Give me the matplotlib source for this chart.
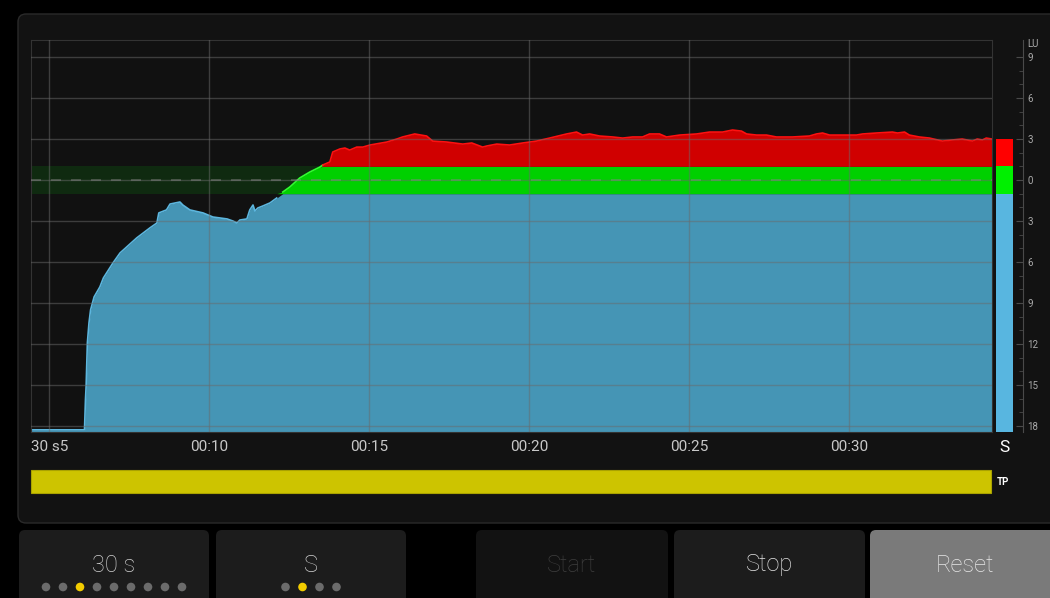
import numpy as np
import matplotlib.pyplot as plt
from matplotlib.patches import FancyBboxPatch, Circle, Rectangle

plt.rcParams['font.family'] = ['Roboto', 'DejaVu Sans']

W, H = 1050, 598

# short-term loudness history (seconds, LU relative to target)
times = [4.45, 6.12, 6.15, 6.17, 6.21, 6.26, 6.31, 6.42, 6.60, 6.71, 7.01, 7.23,
         7.75, 8.16, 8.38, 8.44, 8.68, 8.79, 9.10, 9.19, 9.41, 9.82, 10.13,
         10.57, 10.75, 10.88, 10.97, 11.19, 11.28, 11.38, 11.44, 11.53, 11.69,
         11.91, 12.12, 12.31, 12.53, 12.84, 13.15, 13.47, 13.56, 13.78, 13.87,
         14.09, 14.25, 14.40, 14.62, 14.81, 15.03, 15.56, 15.87, 16.05, 16.43,
         16.80, 16.99, 17.43, 17.93, 18.21, 18.55, 18.68, 18.99, 19.39, 19.80,
         20.23, 20.64, 21.17, 21.48, 21.67, 21.89, 22.20, 22.61, 22.92, 23.23,
         23.54, 23.76, 24.07, 24.29, 24.70, 25.23, 25.63, 26.04, 26.35, 26.63,
         26.79, 27.10, 27.41, 27.72, 28.22, 28.75, 28.97, 29.16, 29.38, 29.78,
         30.22, 30.41, 30.84, 31.34, 31.50, 31.72, 31.87, 32.18, 32.50, 32.90,
         33.21, 33.52, 33.84, 33.99, 34.15, 34.27, 34.45]
lu = [-18.29, -18.29, -16.09, -15.14, -11.92, -10.46, -9.51, -8.56, -7.83, -7.17,
      -6.07, -5.34, -4.24, -3.51, -3.15, -2.41, -2.19, -1.76, -1.61, -1.83,
      -2.19, -2.41, -2.71, -2.85, -3.00, -3.15, -2.93, -2.85, -2.19, -1.83,
      -2.27, -2.05, -1.90, -1.68, -1.32, -0.88, -0.51, 0.15, 0.58, 0.95, 1.10,
      1.32, 2.05, 2.27, 2.34, 2.19, 2.41, 2.41, 2.56, 2.78, 3.00, 3.15, 3.37,
      3.22, 2.85, 2.78, 2.63, 2.71, 2.41, 2.49, 2.63, 2.56, 2.71, 2.85, 3.07,
      3.37, 3.51, 3.29, 3.37, 3.22, 3.15, 3.07, 3.15, 3.15, 3.37, 3.37, 3.15,
      3.29, 3.37, 3.51, 3.51, 3.66, 3.58, 3.37, 3.29, 3.29, 3.15, 3.15, 3.22,
      3.37, 3.44, 3.29, 3.29, 3.29, 3.37, 3.44, 3.51, 3.44, 3.51, 3.29, 3.15,
      3.07, 2.85, 2.93, 3.00, 2.85, 3.00, 2.93, 3.07, 3.00]

time_ticks = [5, 10, 15, 20, 25, 30]
time_labels = ['', '00:10', '00:15', '00:20', '00:25', '00:30']
lu_ticks = list(range(-18, 10, 3))
window = (4.45, 34.45)
lu_range = (-18.45, 10.25)
target_band = (-1, 1)

buttons = ['30 s', 'S', 'Start', 'Stop', 'Reset']
range_dots, range_sel = 9, 2
mode_dots, mode_sel = 4, 1

BLUE, GREEN, RED = '#4595b5', '#00d000', '#d00000'


def frac(x0, y0, x1, y1):
    return [x0 / W, 1 - y1 / H, (x1 - x0) / W, (y1 - y0) / H]


fig = plt.figure(figsize=(W / 100, H / 100), dpi=100, facecolor='black')

# ---- UI chrome in pixel coordinates
bg = fig.add_axes([0, 0, 1, 1])
bg.set_xlim(0, W)
bg.set_ylim(H, 0)
bg.axis('off')
bg.add_patch(FancyBboxPatch((18, 14), 1060, 509, boxstyle='round,pad=0,rounding_size=8',
                            fc='#121212', ec='#2a2a2a', lw=1))

# TP bar
bg.add_patch(Rectangle((31, 470), 960, 23, fc='#cdc400', ec='#a9a200', lw=0.8))
bg.text(1003, 482, 'TP', color='white', fontsize=7, fontweight='bold', ha='center', va='center')
bg.text(1004, 447, 'S', color='white', fontsize=12.5, ha='center', va='center')
bg.text(1027, 44, 'LU', color='#aaaaaa', fontsize=7, ha='left', va='center')
bg.text(31, 447, '30 s5', color='#c8c8c8', fontsize=11, ha='left', va='center')

btn_x = [(19, 209), (216, 406), (476, 668), (674, 865), (870, 1060)]
btn_fc = ['#1c1c1c', '#1c1c1c', '#121212', '#1c1c1c', '#7a7a7a']
btn_tc = ['#d0d0d0', '#d0d0d0', '#3e3e3e', '#e4e4e4', '#e8e8e8']
for (x0, x1), label, fc, tc in zip(btn_x, buttons, btn_fc, btn_tc):
    bg.add_patch(FancyBboxPatch((x0, 530), x1 - x0, 80, boxstyle='round,pad=0,rounding_size=6',
                                fc=fc, ec='none'))
    bg.text((x0 + x1) / 2, 565, label, color=tc, fontsize=17, fontweight='light',
            ha='center', va='center')

for n, sel, cx in [(range_dots, range_sel, 114), (mode_dots, mode_sel, 311)]:
    for i in range(n):
        x = cx + (i - (n - 1) / 2) * 17
        bg.add_patch(Circle((x, 587), 4.3, fc='#f2cc00' if i == sel else '#6b6b6b', ec='none'))

# ---- loudness history
t = np.array(times)
v = np.array(lu)
ax = fig.add_axes(frac(31, 40, 992, 432))
ax.set_facecolor('#111111')
ax.axhspan(*target_band, color='#0f2a10', lw=0, zorder=0)
ax.fill_between(t, lu_range[0], np.minimum(v, -1), color=BLUE, lw=0, zorder=1)
ax.fill_between(t, -1, np.clip(v, -1, 1), color=GREEN, lw=0, zorder=1)
ax.fill_between(t, 1, np.maximum(v, 1), color=RED, lw=0, zorder=1)
ax.plot(t, np.where(v <= -1, v, np.nan), color='#5cb6de', lw=1.2, zorder=2)
ax.plot(t, np.where((v >= -1.2) & (v <= 1.2), v, np.nan), color='#30ff30', lw=1.2, zorder=2)
ax.plot(t, np.where(v >= 1, v, np.nan), color='#ff1010', lw=1.2, zorder=2)
ax.axhline(0, color='#8a8a8a', alpha=0.5, lw=1.2, dashes=(6, 6), zorder=3)

ax.set_xlim(*window)
ax.set_ylim(*lu_range)
ax.set_xticks(time_ticks)
ax.set_xticklabels(time_labels)
ax.set_yticks(lu_ticks)
ax.tick_params(axis='x', length=0, pad=6, labelsize=11, labelcolor='#c8c8c8')
ax.tick_params(axis='y', length=0, labelleft=False)
ax.set_axisbelow(False)
ax.grid(color='#6a6a6a', alpha=0.5, lw=1)
for s in ax.spines.values():
    s.set_color('#333333')

# ---- current short-term meter bar
mb = fig.add_axes(frac(996, 40, 1013, 432))
mb.set_facecolor('#111111')
mb.bar(0, -1 - lu_range[0], bottom=lu_range[0], width=1, color='#58b6e0')
mb.bar(0, 2, bottom=-1, width=1, color='#00f000')
mb.bar(0, v[-1] - 1, bottom=1, width=1, color='#ff0000')
mb.set_xlim(-0.5, 0.5)
mb.set_ylim(*lu_range)
mb.axis('off')

# ---- LU scale
sc = fig.add_axes(frac(1003, 40, 1023, 432))
sc.patch.set_alpha(0)
sc.set_ylim(*lu_range)
sc.set_xticks([])
for k in ['left', 'top', 'bottom']:
    sc.spines[k].set_visible(False)
sc.spines['right'].set_color('#4a4a4a')
sc.yaxis.tick_right()
sc.set_yticks(lu_ticks)
sc.set_yticklabels([str(abs(k)) for k in lu_ticks])
sc.set_yticks(range(-18, 10), minor=True)
sc.tick_params(axis='y', which='major', direction='in', length=5, pad=3,
               color='#4a4a4a', labelsize=7, labelcolor='#aaaaaa')
sc.tick_params(axis='y', which='minor', direction='in', length=3, color='#4a4a4a')

fig.savefig('out.png', dpi=100, facecolor='black')
